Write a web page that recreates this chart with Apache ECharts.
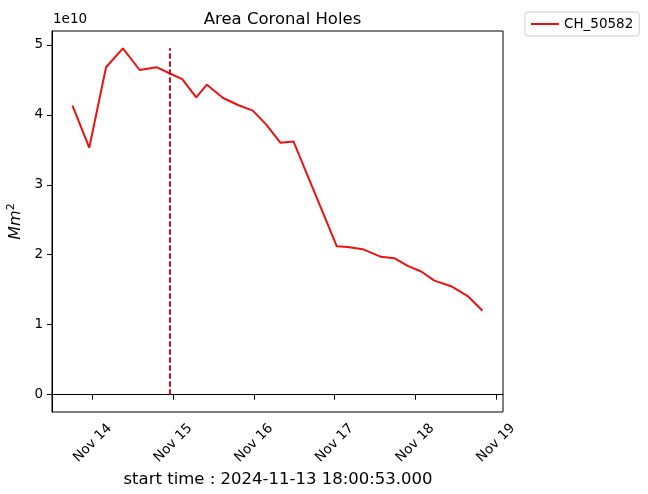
<!DOCTYPE html>
<html><head><meta charset="utf-8">
<script src="https://cdn.jsdelivr.net/npm/echarts@6/dist/echarts.min.js"></script>
<style>html,body{margin:0;padding:0;background:#fff}#c{width:648px;height:494px}</style>
</head><body><div id="c"></div>
<script>
const chartTitle = 'Area Coronal Holes';
const seriesName = 'CH_50582';
const xAxisLabel = 'start time : 2024-11-13 18:00:53.000';
const yScaleLabel = '1e10';
const times = [
  '2024-11-13T18:00:53Z','2024-11-13T23:00:00Z','2024-11-14T04:00:00Z','2024-11-14T09:00:00Z',
  '2024-11-14T14:00:00Z','2024-11-14T19:00:00Z','2024-11-14T23:00:00Z','2024-11-15T02:40:00Z',
  '2024-11-15T06:50:00Z','2024-11-15T10:00:00Z','2024-11-15T14:50:00Z','2024-11-15T19:15:00Z',
  '2024-11-15T23:40:00Z','2024-11-16T03:40:00Z','2024-11-16T07:55:00Z','2024-11-16T11:45:00Z',
  '2024-11-17T00:40:00Z','2024-11-17T03:55:00Z','2024-11-17T08:20:00Z','2024-11-17T13:50:00Z',
  '2024-11-17T17:45:00Z','2024-11-17T21:45:00Z','2024-11-18T01:45:00Z','2024-11-18T05:40:00Z',
  '2024-11-18T10:40:00Z','2024-11-18T15:35:00Z','2024-11-18T20:00:00Z'
];
// area in units of 1e10 Mm^2
const areas = [
  4.13, 3.53, 4.68, 4.95, 4.64, 4.68, 4.59, 4.51,
  4.25, 4.43, 4.24, 4.14, 4.06, 3.86, 3.60, 3.62,
  2.12, 2.11, 2.08, 1.97, 1.95, 1.84, 1.76, 1.63,
  1.55, 1.41, 1.20
];
const markerTime = '2024-11-14T23:00:00Z';
const markerRange = [0, 4.95];
const xTickDates = ['2024-11-14','2024-11-15','2024-11-16','2024-11-17','2024-11-18','2024-11-19'];
const yTicks = [0, 1, 2, 3, 4, 5];
const monthNames = ['Jan','Feb','Mar','Apr','May','Jun','Jul','Aug','Sep','Oct','Nov','Dec'];

const FONT = 'DejaVu Sans';
const tms = times.map(t => Date.parse(t));
const markerT = Date.parse(markerTime);
const tMin = Math.min(...tms, markerT), tMax = Math.max(...tms, markerT);
const tPad = 0.05 * (tMax - tMin);
const yLo = Math.min(...areas, ...markerRange), yHi = Math.max(...areas, ...markerRange);
const yPad = 0.05 * (yHi - yLo);
const xTickVals = xTickDates.map(d => Date.parse(d + 'T00:00:00Z'));

const chart = echarts.init(document.getElementById('c'), null, {renderer: 'canvas'});
chart.setOption({
  animation: false,
  backgroundColor: '#fff',
  textStyle: {fontFamily: FONT},
  title: {
    text: chartTitle, left: 277.5, top: 6, textAlign: 'center',
    textStyle: {fontFamily: FONT, fontSize: 16.5, fontWeight: 'normal', color: '#000'}
  },
  legend: {
    left: 525, top: 12,
    data: [{name: seriesName, icon: 'rect'}],
    itemWidth: 28, itemHeight: 2, itemGap: 8,
    padding: [5, 6, 5, 6],
    borderColor: '#d0d0d0', borderWidth: 1, borderRadius: 3,
    textStyle: {fontFamily: FONT, fontSize: 13.5, color: '#000'}
  },
  grid: {left: 52, top: 31, right: 145, bottom: 82, show: true, borderColor: '#000', borderWidth: 1,
         containLabel: false, outerBoundsMode: 'none'},
  xAxis: {
    type: 'value', min: tMin - tPad, max: tMax + tPad,
    splitLine: {show: false},
    axisLine: {show: true, lineStyle: {color: '#000', width: 1}},
    axisTick: {show: true, length: 5, lineStyle: {color: '#000'}, customValues: xTickVals},
    axisLabel: {
      customValues: xTickVals, rotate: 45, align: 'center', verticalAlign: 'middle', margin: 31,
      fontFamily: FONT, fontSize: 13.5, color: '#000',
      formatter: v => { const d = new Date(v); return monthNames[d.getUTCMonth()] + ' ' + String(d.getUTCDate()).padStart(2, '0'); }
    }
  },
  yAxis: {
    type: 'value', min: yLo - yPad, max: yHi + yPad,
    splitLine: {show: false},
    name: '{i|Mm}{s|2}', nameLocation: 'middle', nameRotate: 90, nameGap: 25,
    nameTextStyle: {rich: {
      i: {fontFamily: FONT, fontStyle: 'italic', fontSize: 16, color: '#000'},
      s: {fontFamily: FONT, fontStyle: 'normal', fontSize: 11, color: '#000', verticalAlign: 'bottom', padding: [0, 0, 8, 0]}
    }},
    axisLine: {show: true, lineStyle: {color: '#000', width: 1}},
    axisTick: {show: true, length: 5, lineStyle: {color: '#000'}, customValues: yTicks},
    axisLabel: {customValues: yTicks, margin: 9, fontFamily: FONT, fontSize: 13.5, color: '#000'}
  },
  graphic: [
    {type: 'text', left: 53, top: 12, style: {text: yScaleLabel, font: '13.5px "DejaVu Sans"', fill: '#000'}},
    {type: 'text', x: 278, y: 480, style: {text: xAxisLabel, font: '16.5px "DejaVu Sans"', fill: '#000', textAlign: 'center', textVerticalAlign: 'middle'}}
  ],
  series: [
    {
      name: seriesName, type: 'line', symbol: 'none', silent: true,
      data: tms.map((t, i) => [t, areas[i]]),
      lineStyle: {color: '#ee1111', width: 2}, itemStyle: {color: '#ee1111'}
    },
    {
      name: 'marker', type: 'line', symbol: 'none', silent: true,
      data: markerRange.map(v => [markerT, v]),
      lineStyle: {color: '#b3121d', width: 2, type: [5.5, 2.5]}
    }
  ]
});
</script></body></html>
